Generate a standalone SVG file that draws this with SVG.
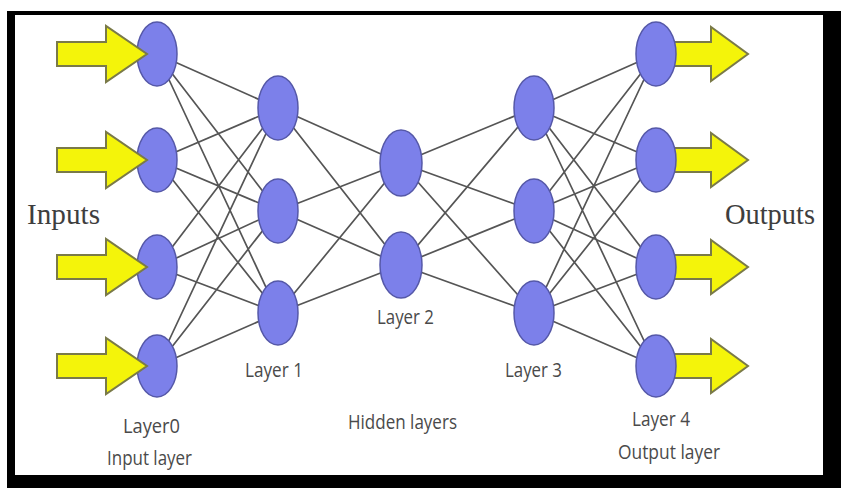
<svg xmlns="http://www.w3.org/2000/svg" width="841" height="488" viewBox="0 0 841 488">
<style>
.node{fill:#7c80ea;stroke:#5558a8;stroke-width:1.5}
.arrow{fill:#f4f40a;stroke:#7a7a48;stroke-width:2;stroke-linejoin:miter}
.edge{stroke:#555555;stroke-width:1.7;fill:none}
.lbl{font-family:"Open Sans","Liberation Sans",sans-serif;font-size:20px;fill:#4a4a4a}
.big{font-family:"Liberation Serif",serif;font-size:30px;fill:#3e3e3e}
</style>
<rect x="0" y="0" width="841" height="488" fill="#ffffff"/>
<rect x="7" y="11" width="834" height="477" fill="#000000"/>
<rect x="15" y="15" width="808" height="460" fill="#ffffff"/>
<g id="connectors">
<path class="edge" d="M157,54L278,108M157,54L278,211M157,54L278,313M157,160L278,108M157,160L278,211M157,160L278,313M157,267L278,108M157,267L278,211M157,267L278,313M157,366L278,108M157,366L278,211M157,366L278,313"/>
<path class="edge" d="M278,108L401,163M278,108L401,265M278,211L401,163M278,211L401,265M278,313L401,163M278,313L401,265"/>
<path class="edge" d="M401,163L534,108M401,163L534,211M401,163L534,313M401,265L534,108M401,265L534,211M401,265L534,313"/>
<path class="edge" d="M534,108L656,54M534,108L656,160M534,108L656,267M534,108L656,366M534,211L656,54M534,211L656,160M534,211L656,267M534,211L656,366M534,313L656,54M534,313L656,160M534,313L656,267M534,313L656,366"/>
</g>
<g id="output-arrows">
<path class="arrow" d="M672,42H711V27L748,54L711,81V66H672Z"/>
<path class="arrow" d="M672,148H711V133L748,160L711,187V172H672Z"/>
<path class="arrow" d="M672,255H711V240L748,267L711,294V279H672Z"/>
<path class="arrow" d="M672,354H711V339L748,366L711,393V378H672Z"/>
</g>
<g id="layer0">
<g id="n0_1"><ellipse class="node" cx="157" cy="54" rx="20" ry="32"/></g>
<g id="n0_2"><ellipse class="node" cx="157" cy="160" rx="20" ry="32"/></g>
<g id="n0_3"><ellipse class="node" cx="157" cy="267" rx="20" ry="32"/></g>
<g id="n0_4"><ellipse class="node" cx="157" cy="366" rx="20" ry="31"/></g>
</g>
<g id="layer1">
<g id="n1_1"><ellipse class="node" cx="278" cy="108" rx="20" ry="32"/></g>
<g id="n1_2"><ellipse class="node" cx="278" cy="211" rx="20" ry="32"/></g>
<g id="n1_3"><ellipse class="node" cx="278" cy="313" rx="20" ry="32"/></g>
</g>
<g id="layer2">
<g id="n2_1"><ellipse class="node" cx="401" cy="163" rx="21" ry="33"/></g>
<g id="n2_2"><ellipse class="node" cx="401" cy="265" rx="21" ry="33"/></g>
</g>
<g id="layer3">
<g id="n3_1"><ellipse class="node" cx="534" cy="108" rx="20" ry="32"/></g>
<g id="n3_2"><ellipse class="node" cx="534" cy="211" rx="20" ry="32"/></g>
<g id="n3_3"><ellipse class="node" cx="534" cy="313" rx="20" ry="32"/></g>
</g>
<g id="layer4">
<g id="n4_1"><ellipse class="node" cx="656" cy="54" rx="20" ry="32"/></g>
<g id="n4_2"><ellipse class="node" cx="656" cy="160" rx="20" ry="32"/></g>
<g id="n4_3"><ellipse class="node" cx="656" cy="267" rx="20" ry="32"/></g>
<g id="n4_4"><ellipse class="node" cx="656" cy="366" rx="20" ry="31"/></g>
</g>
<g id="input-arrows">
<path class="arrow" d="M57,42H106V26L147,54L106,82V66H57Z"/>
<path class="arrow" d="M57,148H106V132L147,160L106,188V172H57Z"/>
<path class="arrow" d="M57,255H106V239L147,267L106,295V279H57Z"/>
<path class="arrow" d="M57,354H106V338L147,366L106,394V378H57Z"/>
</g>
<g id="labels">
<text class="big" x="27" y="224" textLength="73" lengthAdjust="spacingAndGlyphs">Inputs</text>
<text class="big" x="725" y="224" textLength="90" lengthAdjust="spacingAndGlyphs">Outputs</text>
<text class="lbl" x="245" y="377" textLength="58" lengthAdjust="spacingAndGlyphs">Layer 1</text>
<text class="lbl" x="377" y="324" textLength="57" lengthAdjust="spacingAndGlyphs">Layer 2</text>
<text class="lbl" x="505" y="377" textLength="57" lengthAdjust="spacingAndGlyphs">Layer 3</text>
<text class="lbl" x="348" y="429" textLength="109" lengthAdjust="spacingAndGlyphs">Hidden layers</text>
<text class="lbl" x="123" y="433" textLength="57" lengthAdjust="spacingAndGlyphs">Layer0</text>
<text class="lbl" x="107" y="465" textLength="85" lengthAdjust="spacingAndGlyphs">Input layer</text>
<text class="lbl" x="632" y="426" textLength="58" lengthAdjust="spacingAndGlyphs">Layer 4</text>
<text class="lbl" x="618" y="459" textLength="102" lengthAdjust="spacingAndGlyphs">Output layer</text>
</g>
</svg>
